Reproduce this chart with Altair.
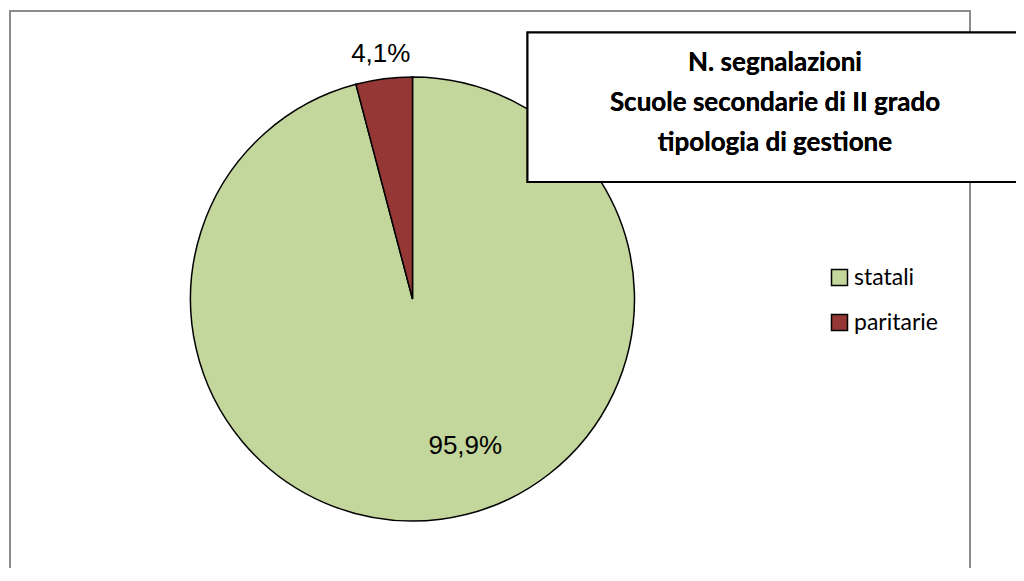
import altair as alt
import pandas as pd

# ---- data ----
categories = ["statali", "paritarie"]
percent = [95.9, 4.1]
colors = ["#c3d69b", "#953735"]
title_lines = ["N. segnalazioni", "Scuole secondarie di II grado", "tipologia di gestione"]

df = pd.DataFrame({
    "categoria": categories,
    "valore": percent,
    "ordine": list(range(len(categories))),
    "etichetta": [f"{v:.1f}%".replace(".", ",") for v in percent],
})

W, H = 1008, 560
CX, CY, R = 404.5, 291, 222

color_scale = alt.Scale(domain=categories, range=colors)

base = alt.Chart(df).encode(
    theta=alt.Theta("valore:Q", stack=True),
    order=alt.Order("ordine:Q"),
    x=alt.value(CX),
    y=alt.value(CY),
)

frame_left = alt.Chart(df).mark_rule(color="#8c8c8c", strokeWidth=2).encode(
    x=alt.value(2), y=alt.value(3), y2=alt.value(H + 20))
frame_right = alt.Chart(df).mark_rule(color="#8c8c8c", strokeWidth=2).encode(
    x=alt.value(962), y=alt.value(3), y2=alt.value(H + 20))
frame_top = alt.Chart(df).mark_rule(color="#8c8c8c", strokeWidth=2).encode(
    x=alt.value(1), x2=alt.value(963), y=alt.value(3))

pie = base.mark_arc(outerRadius=R, stroke="black", strokeWidth=1.5).encode(
    color=alt.Color(
        "categoria:N",
        scale=color_scale,
        sort=categories,
        legend=alt.Legend(
            orient="none",
            legendX=820,
            legendY=258,
            title=None,
            symbolType="square",
            symbolSize=256,
            symbolStrokeColor="black",
            symbolStrokeWidth=1.5,
            labelFont="Lato",
            labelFontSize=23,
            labelColor="black",
            labelOffset=3,
            rowPadding=21,
            padding=0,
        ),
    )
)

lab_out = base.mark_text(radius=247, font="Liberation Sans", fontSize=26, color="black",
                         baseline="middle").encode(
    text=alt.condition(alt.datum.categoria == "paritarie", "etichetta:N", alt.value(""))
)

lab_in = base.mark_text(radius=154, font="Liberation Sans", fontSize=26, color="black",
                        baseline="middle", dx=33, dy=-6).encode(
    text=alt.condition(alt.datum.categoria == "statali", "etichetta:N", alt.value(""))
)

title_box = alt.Chart(df).mark_rect(fill="white", stroke="black", strokeWidth=2).encode(
    x=alt.value(519.5), x2=alt.value(1030), y=alt.value(24.5), y2=alt.value(174))

title_text = alt.Chart(df).mark_text(
    font="Lato", fontSize=26, fontWeight="bold", color="black",
    lineHeight=40, baseline="middle", align="center"
).encode(
    x=alt.value(767), y=alt.value(55), text=alt.value(title_lines)
)

chart = alt.layer(
    frame_left, frame_right, frame_top, pie, lab_out, lab_in, title_box, title_text
).properties(
    width=W, height=H, autosize=alt.AutoSizeParams(type="none"), padding=0
).configure_view(stroke=None)

chart.save("out.html", embed_options={"renderer": "svg", "actions": False})
